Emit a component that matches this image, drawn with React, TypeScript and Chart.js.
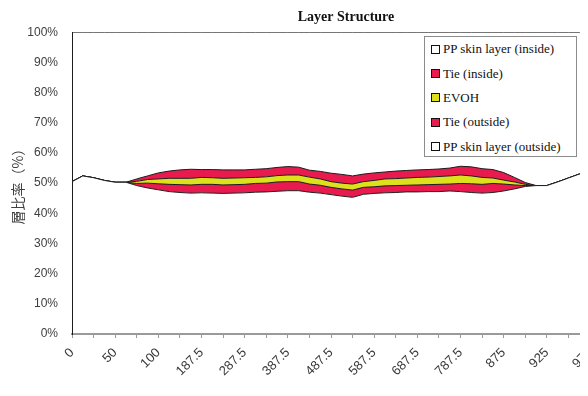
import React, { useEffect, useRef } from 'react';
import { Chart, registerables } from 'chart.js';

Chart.register(...registerables);

// Sheet-width positions (mm); every 4th one is labelled on the axis
const categories = [
  '0', '12.5', '25', '37.5', '50', '62.5', '75', '87.5', '100',
  '121.875', '143.75', '165.625', '187.5',
  '212.5', '237.5', '262.5', '287.5', '312.5', '337.5', '362.5', '387.5',
  '412.5', '437.5', '462.5', '487.5', '512.5', '537.5', '562.5', '587.5',
  '612.5', '637.5', '662.5', '687.5', '712.5', '737.5', '762.5', '787.5',
  '809.375', '831.25', '853.125', '875',
  '887.5', '900', '912.5', '925', '937.5', '950', '962.5', '975',
];

const ppInside = [
  50.5, 52.4, 51.8, 50.9, 50.3, 50.3, 49.2, 48.4, 47.8, 47.2, 46.9, 46.7, 46.8,
  46.7, 46.6, 46.7, 46.8, 47.0, 47.1, 47.3, 47.5, 47.5, 47.0, 46.7, 46.2, 45.7,
  45.3, 46.3, 46.6, 46.8, 46.9, 47.1, 47.1, 47.2, 47.2, 47.4, 47.2, 46.9, 46.7,
  46.9, 47.4, 48.1, 48.9, 49.2, 49.2, 50.4, 51.7, 53.0, 52.0,
];
const tieInside = [
  0, 0, 0, 0, 0, 0, 0.7, 1.6, 2.0, 2.4, 2.6, 2.7, 2.8,
  2.9, 2.8, 2.8, 2.8, 2.9, 2.9, 3.1, 3.0, 3.0, 2.7, 2.6, 2.4, 2.4,
  2.4, 2.3, 2.2, 2.3, 2.3, 2.2, 2.3, 2.3, 2.4, 2.3, 2.7, 2.9, 2.9,
  3.0, 2.3, 1.3, 0.3, 0, 0, 0, 0, 0, 0,
];
const evoh = [
  0, 0, 0, 0, 0, 0, 0.7, 1.2, 1.6, 2.0, 2.1, 2.2, 2.3,
  2.2, 2.2, 2.2, 2.2, 2.0, 2.1, 2.1, 2.2, 2.2, 2.3, 2.1, 1.9, 1.9,
  2.0, 1.9, 2.1, 2.3, 2.3, 2.4, 2.5, 2.5, 2.6, 2.7, 2.8, 2.6, 2.3,
  1.8, 1.3, 1.0, 0.4, 0, 0, 0, 0, 0, 0,
];
const tieOutside = [
  0, 0, 0, 0, 0, 0, 0.8, 1.2, 2.0, 2.4, 2.8, 3.0, 2.6,
  2.7, 2.8, 2.7, 2.6, 2.7, 2.7, 2.7, 2.8, 2.6, 2.3, 2.5, 2.8, 2.9,
  2.7, 2.5, 2.5, 2.3, 2.5, 2.5, 2.5, 2.5, 2.5, 2.6, 2.9, 3.0, 2.9,
  2.8, 2.5, 1.5, 0.6, 0, 0, 0, 0, 0, 0,
];
const ppOutside = [
  49.5, 47.6, 48.2, 49.1, 49.7, 49.7, 48.6, 47.6, 46.6, 46.0, 45.6, 45.4, 45.5,
  45.5, 45.6, 45.6, 45.6, 45.4, 45.2, 44.8, 44.5, 44.7, 45.7, 46.1, 46.7, 47.1,
  47.6, 47.0, 46.6, 46.3, 46.0, 45.8, 45.6, 45.5, 45.3, 45.0, 44.4, 44.6, 45.2,
  45.5, 46.5, 48.1, 49.8, 50.8, 50.8, 49.6, 48.3, 47.0, 48.0,
];

const seriesNames = [
  'PP skin layer (inside)',
  'Tie (inside)',
  'EVOH',
  'Tie (outside)',
  'PP skin layer (outside)',
];
const seriesColors = ['#ffffff', '#e91b4e', '#dde01c', '#e91b4e', '#ffffff'];
const yTicks = [0, 10, 20, 30, 40, 50, 60, 70, 80, 90, 100];

const SANS = "'Liberation Sans', Arial, sans-serif";
const SERIF = "'Liberation Serif', 'Times New Roman', serif";
const CJK = "'Noto Sans CJK JP', sans-serif";

export default function App() {
  const ref = useRef<HTMLCanvasElement>(null);

  useEffect(() => {
    const canvas = ref.current;
    if (!canvas) return;
    const values = [ppInside, tieInside, evoh, tieOutside, ppOutside];
    const chart = new Chart(canvas, {
      type: 'line',
      data: {
        labels: categories,
        datasets: values.map((d, i) => ({
          label: seriesNames[i],
          data: d,
          backgroundColor: seriesColors[i],
          borderColor: '#1c1c1c',
          borderWidth: 1,
          pointRadius: 0,
          tension: 0,
          fill: i === 0 ? 'origin' : '-1',
        })),
      },
      options: {
        responsive: false,
        animation: false,
        events: [],
        layout: { padding: 0 },
        plugins: {
          legend: { display: false },
          tooltip: { enabled: false },
          title: {
            display: true,
            text: 'Layer Structure',
            color: '#111',
            font: { family: SERIF, size: 14, weight: 'bold' },
            padding: { top: 1, bottom: 6.5 },
          },
        },
        scales: {
          x: {
            type: 'category',
            offset: false,
            grid: {
              display: true,
              drawOnChartArea: false,
              drawTicks: true,
              tickLength: 4,
              lineWidth: 1,
              color: (c: any) => (c.index % 2 === 0 ? '#9a9a9a' : 'rgba(0,0,0,0)'),
            },
            border: { display: true, color: '#9a9a9a', width: 2, z: 1 },
            ticks: {
              autoSkip: false,
              minRotation: 45,
              maxRotation: 45,
              padding: 7,
              color: '#383838',
              font: { family: SANS, size: 13 },
              callback: (_v: any, i: number) => (i % 4 === 0 ? categories[i] : ''),
            },
            title: {
              display: true,
              text: 'シート幅［mm］',
              color: '#383838',
              font: { family: CJK, size: 13 },
              padding: { top: 4, bottom: 6 },
            },
            afterFit: (s: any) => {
              s.height = 74;
            },
          },
          y: {
            stacked: true,
            min: 0,
            max: 100,
            grid: { display: false, drawTicks: false },
            border: { display: true, color: '#1c1c1c', width: 1, z: 1 },
            afterBuildTicks: (s: any) => {
              s.ticks = yTicks.map((v) => ({ value: v }));
            },
            ticks: {
              padding: 14,
              color: '#404040',
              font: { family: SANS, size: 12 },
              callback: (v: any) => v + '%',
            },
            title: {
              display: true,
              text: '層比率（%）',
              color: '#404040',
              font: { family: CJK, size: 14 },
              padding: { top: 1, bottom: 0 },
            },
            afterFit: (s: any) => {
              s.width = 64;
            },
          },
          // empty spacer on the right so the plot ends where the reference's does
          yRight: {
            position: 'right',
            display: true,
            grid: { display: false, drawTicks: false },
            border: { display: false },
            ticks: { display: false },
            afterFit: (s: any) => {
              s.width = 94;
            },
          },
        },
      },
    });
    return () => chart.destroy();
  }, []);

  const legendItem = (name: string, color: string, i: number) => (
    <div
      key={i}
      style={{
        display: 'flex',
        alignItems: 'center',
        height: 24.4,
        whiteSpace: 'nowrap',
      }}
    >
      <span
        style={{
          display: 'inline-block',
          width: 7,
          height: 7,
          border: '1px solid #111',
          background: color,
          marginRight: 3,
          flex: '0 0 auto',
        }}
      />
      <span>{name}</span>
    </div>
  );

  return (
    <div
      style={{
        position: 'relative',
        width: 580,
        height: 388,
        overflow: 'hidden',
        marginBottom: -8,
        background: '#fff',
      }}
    >
      <canvas ref={ref} width={676} height={400} style={{ display: 'block' }} />
      <div
        style={{
          position: 'absolute',
          left: 416,
          top: 28,
          width: 153,
          height: 121,
          boxSizing: 'border-box',
          border: '1px solid #8c8c8c',
          background: '#fff',
          padding: '0 0 0 6px',
          fontFamily: SERIF,
          fontSize: 13,
          color: '#111',
        }}
      >
        {seriesNames.map((n, i) => legendItem(n, seriesColors[i], i))}
      </div>
    </div>
  );
}
